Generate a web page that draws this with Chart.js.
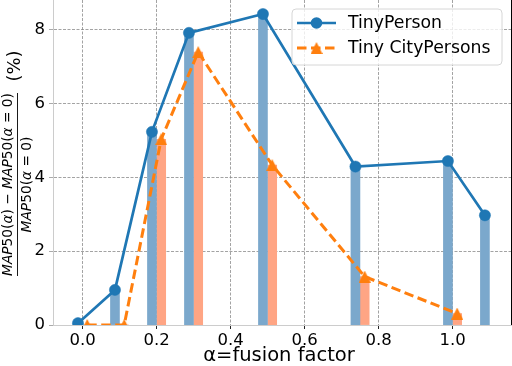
<!DOCTYPE html>
<html><head><meta charset="utf-8">
<script src="https://cdn.jsdelivr.net/npm/chart.js@4/dist/chart.umd.min.js"></script>
<style>html,body{margin:0;padding:0;background:#fff;}canvas{display:block;}</style>
</head><body>
<canvas id="c" width="512" height="366"></canvas>
<script>
// ---- data ----
const alphaTinyPerson = [0, 0.1, 0.2, 0.3, 0.5, 0.75, 1.0, 1.1];
const tinyPerson      = [0.05, 0.95, 5.23, 7.91, 8.42, 4.29, 4.44, 2.97];
const alphaTinyCity   = [0, 0.1, 0.2, 0.3, 0.5, 0.75, 1.0];
const tinyCityPersons = [0, 0, 5.03, 7.39, 4.33, 1.31, 0.31];
const seriesNames = ['TinyPerson', 'Tiny CityPersons'];
const xTickValues = [0, 0.2, 0.4, 0.6, 0.8, 1.0];
const yTickValues = [0, 2, 4, 6, 8];
const xTitle = 'α=fusion factor';
const yUnit = '(%)';

// ---- style / layout ----
const OFF = 0.0125;              // half-offset of the two series around each alpha
const BLUE = '#1f77b4', ORANGE = '#ff7f0e';
const BLUE_BAR = '#7ba8cc', ORANGE_BAR = '#ffa584';
const FONT = '"DejaVu Sans", "Liberation Sans", sans-serif';

const ptsBlue = alphaTinyPerson.map((a, i) => ({x: a - OFF, y: tinyPerson[i]}));
const ptsOrange = alphaTinyCity.map((a, i) => ({x: a + OFF, y: tinyCityPersons[i]}));

// matplotlib-like '^' marker (centred on bbox)
function triImg(size, color) {
  const c = document.createElement('canvas');
  c.width = size; c.height = size;
  const g = c.getContext('2d');
  g.fillStyle = color;
  g.beginPath();
  g.moveTo(size / 2, 0); g.lineTo(size, size); g.lineTo(0, size); g.closePath();
  g.fill();
  return c;
}
const tri = triImg(12, ORANGE);

function drawParts(ctx, parts, size, cx, cy) {
  const fontOf = it => (it ? 'italic ' : '') + size + 'px ' + FONT;
  let total = 0;
  parts.forEach(p => { ctx.font = fontOf(p[1]); total += ctx.measureText(p[0]).width; });
  let x = cx - total / 2;
  ctx.textAlign = 'left'; ctx.textBaseline = 'middle';
  parts.forEach(p => { ctx.font = fontOf(p[1]); ctx.fillText(p[0], x, cy); x += ctx.measureText(p[0]).width; });
  return total;
}
function measureParts(ctx, parts, size) {
  let t = 0;
  parts.forEach(p => { ctx.font = (p[1] ? 'italic ' : '') + size + 'px ' + FONT; t += ctx.measureText(p[0]).width; });
  return t;
}

const numer = [['MAP',1],['50',0],['(',0],['α',1],[')',0],[' − ',0],['MAP',1],['50',0],['(',0],['α',1],[' = ',0],['0',0],[')',0]];
const denom = [['MAP',1],['50',0],['(',0],['α',1],[' = ',0],['0',0],[')',0]];

const decor = {
  id: 'decor',
  afterDraw(chart) {
    const ctx = chart.ctx, ca = chart.chartArea;
    ctx.save();
    // right spine
    ctx.strokeStyle = '#000'; ctx.lineWidth = 1;
    ctx.beginPath(); ctx.moveTo(ca.right + 0.5, ca.top); ctx.lineTo(ca.right + 0.5, ca.bottom); ctx.stroke();

    // x title
    ctx.fillStyle = '#000';
    ctx.font = '19.5px ' + FONT; ctx.textAlign = 'center'; ctx.textBaseline = 'middle';
    ctx.fillText(xTitle, 279, 356);

    // y title (rotated fraction)
    ctx.save();
    ctx.translate(17.5, 184.5);
    ctx.rotate(-Math.PI / 2);
    const target = 183;
    const s = 14 * target / measureParts(ctx, numer, 14);
    drawParts(ctx, numer, s, 0, -9);
    drawParts(ctx, denom, s, 0, 9.5);
    ctx.strokeStyle = '#000'; ctx.lineWidth = 0.9;
    ctx.beginPath(); ctx.moveTo(-target / 2, 0); ctx.lineTo(target / 2, 0); ctx.stroke();
    ctx.font = '18px ' + FONT; ctx.textAlign = 'center'; ctx.textBaseline = 'middle';
    ctx.fillText(yUnit, 118.5, -2.5);
    ctx.restore();

    // legend
    const lx = 292, ly = 9, lw = 210, lh = 56, r = 4;
    ctx.beginPath();
    ctx.moveTo(lx + r, ly); ctx.lineTo(lx + lw - r, ly); ctx.arcTo(lx + lw, ly, lx + lw, ly + r, r);
    ctx.lineTo(lx + lw, ly + lh - r); ctx.arcTo(lx + lw, ly + lh, lx + lw - r, ly + lh, r);
    ctx.lineTo(lx + r, ly + lh); ctx.arcTo(lx, ly + lh, lx, ly + lh - r, r);
    ctx.lineTo(lx, ly + r); ctx.arcTo(lx, ly, lx + r, ly, r); ctx.closePath();
    ctx.fillStyle = 'rgba(255,255,255,0.8)'; ctx.fill();
    ctx.strokeStyle = '#d6d6d6'; ctx.lineWidth = 1; ctx.stroke();

    const rows = [23, 48];
    // TinyPerson
    ctx.strokeStyle = BLUE; ctx.lineWidth = 2.7; ctx.setLineDash([]);
    ctx.beginPath(); ctx.moveTo(297, rows[0]); ctx.lineTo(336, rows[0]); ctx.stroke();
    ctx.fillStyle = BLUE; ctx.beginPath(); ctx.arc(316.5, rows[0], 5.8, 0, Math.PI * 2); ctx.fill();
    // Tiny CityPersons
    ctx.strokeStyle = ORANGE; ctx.lineWidth = 3; ctx.setLineDash([9.5, 4.5]);
    ctx.beginPath(); ctx.moveTo(297, rows[1]); ctx.lineTo(336, rows[1]); ctx.stroke();
    ctx.setLineDash([]);
    ctx.drawImage(tri, 316.5 - 6, rows[1] - 6);

    ctx.fillStyle = '#000'; ctx.font = '17.3px ' + FONT; ctx.textAlign = 'left'; ctx.textBaseline = 'middle';
    ctx.fillText(seriesNames[0], 348, rows[0] + 1);
    ctx.fillText(seriesNames[1], 348, rows[1] + 1);
    ctx.restore();
  }
};

new Chart(document.getElementById('c'), {
  type: 'line',
  data: {
    datasets: [
      {type: 'bar', label: seriesNames[0] + ' bars', data: ptsBlue, backgroundColor: BLUE_BAR,
       barThickness: 9, grouped: false, order: 10, borderWidth: 0},
      {type: 'bar', label: seriesNames[1] + ' bars', data: ptsOrange, backgroundColor: ORANGE_BAR,
       barThickness: 9, grouped: false, order: 10, borderWidth: 0},
      {type: 'line', label: seriesNames[0], data: ptsBlue, borderColor: BLUE, borderWidth: 2.7,
       pointRadius: 5.6, pointBackgroundColor: BLUE, pointBorderColor: BLUE, pointBorderWidth: 0.5,
       tension: 0, order: 2, fill: false},
      {type: 'line', label: seriesNames[1], data: ptsOrange, borderColor: ORANGE, borderWidth: 3,
       borderDash: [9.5, 4.5], pointStyle: tri, pointRadius: 6, tension: 0, order: 1, fill: false}
    ]
  },
  options: {
    responsive: false,
    animation: false,
    devicePixelRatio: 1,
    layout: {autoPadding: false, padding: {top: 0, right: 1, bottom: 0, left: 0}},
    plugins: {legend: {display: false}, tooltip: {enabled: false}},
    scales: {
      x: {
        type: 'linear', min: -0.08, max: 1.158, offset: false,
        afterBuildTicks: s => { s.ticks = xTickValues.map(v => ({value: v})); },
        afterFit: s => { s.height = 41; s.paddingLeft = 0; s.paddingRight = 0; },
        ticks: {callback: v => v.toFixed(1), color: '#000', font: {family: FONT, size: 16.5}, padding: 2, maxRotation: 0},
        grid: {offset: false, color: '#8c8c8c', lineWidth: 0.8, tickLength: 4, tickColor: '#222', tickWidth: 1},
        border: {color: '#cccccc', width: 1, dash: [3, 1.5]}
      },
      y: {
        min: 0, max: 8.8,
        afterBuildTicks: s => { s.ticks = yTickValues.map(v => ({value: v})); },
        afterFit: s => { s.width = 53; s.paddingTop = 0; s.paddingBottom = 0; },
        ticks: {callback: v => String(v), color: '#000', font: {family: FONT, size: 16.5}, padding: 4},
        grid: {color: '#8c8c8c', lineWidth: 0.8, tickLength: 4, tickColor: '#aaaaaa', tickWidth: 1},
        border: {color: '#cccccc', width: 1, dash: [3, 1.5]}
      }
    }
  },
  plugins: [decor]
});
</script>
</body></html>
